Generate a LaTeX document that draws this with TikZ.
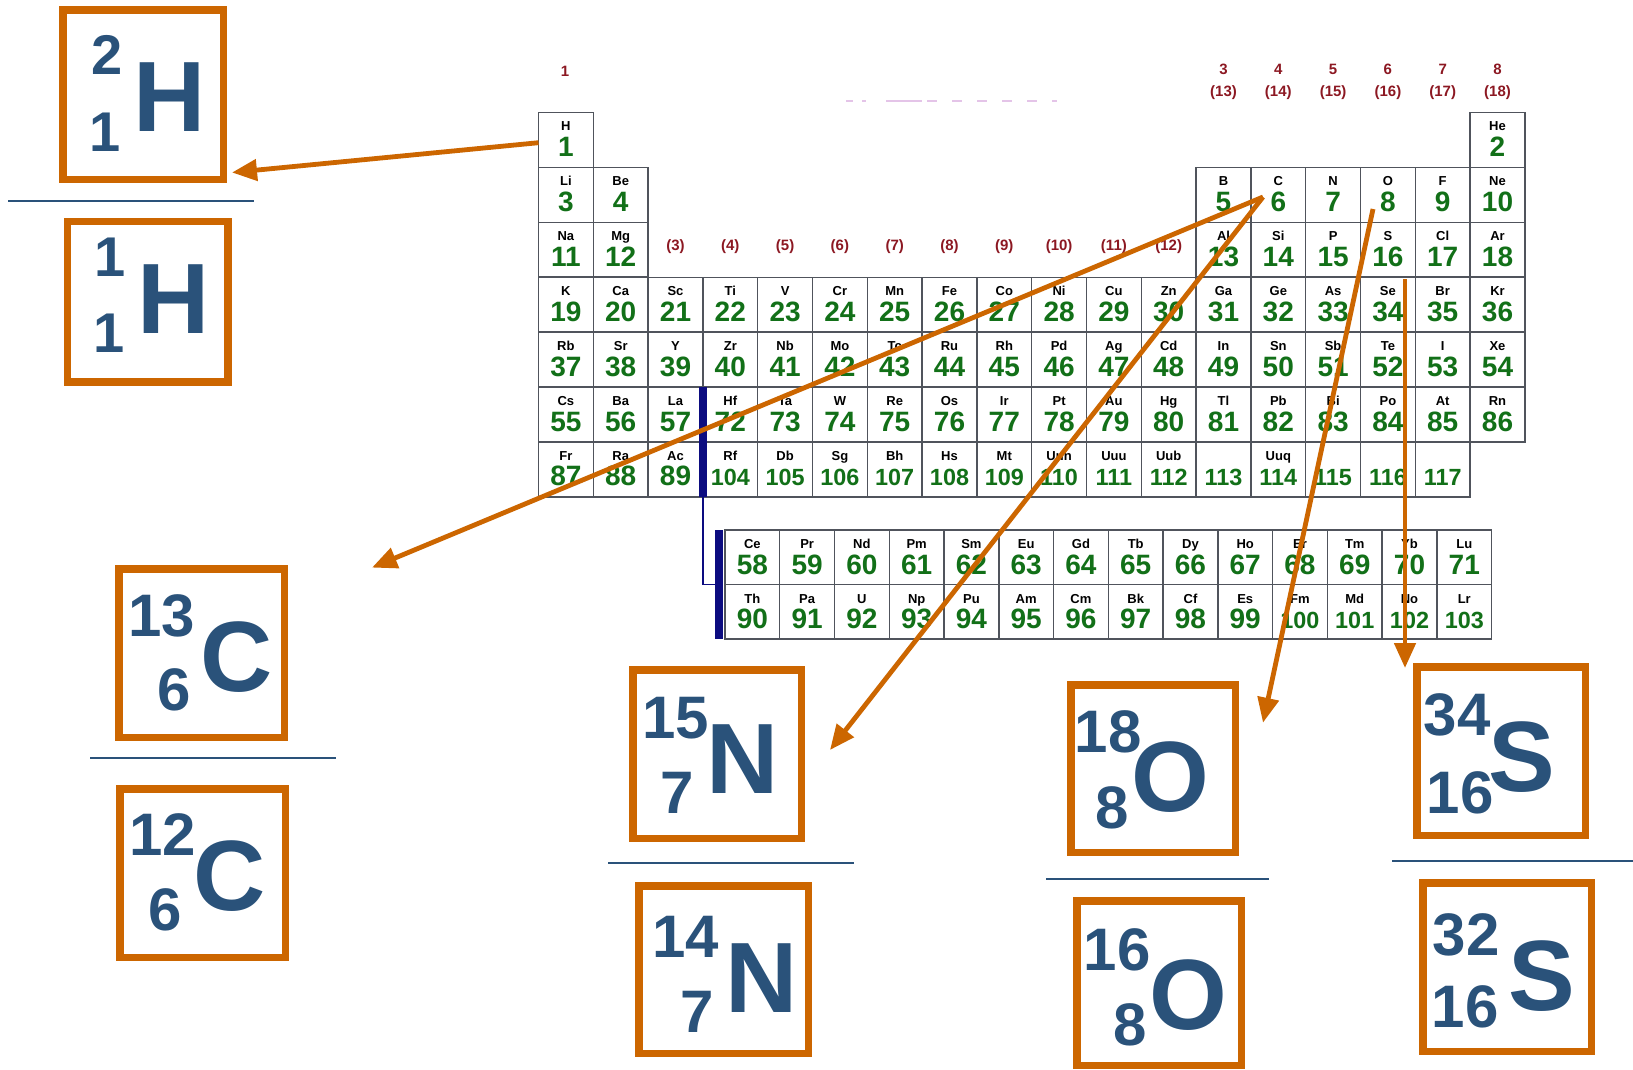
\documentclass[tikz,border=0pt]{standalone}
\usepackage{fontspec}
\setmainfont{Liberation Sans}
\usetikzlibrary{arrows.meta}
\definecolor{orng}{RGB}{204,102,0}
\definecolor{isoblue}{RGB}{42,82,122}
\definecolor{elgreen}{RGB}{18,112,24}
\definecolor{grpred}{RGB}{140,24,34}
\definecolor{navybar}{RGB}{12,12,128}
\definecolor{cellline}{RGB}{80,84,92}
\definecolor{faintpink}{RGB}{228,196,232}
\begin{document}
\begin{tikzpicture}[x=0.5pt,y=-0.5pt,
  cellbox/.style={draw=cellline, line width=0.75pt, fill=white, minimum width=27.4pt, minimum height=27.4pt, inner sep=0pt, outer sep=0pt},
  symtext/.style={anchor=base, inner sep=0pt, font=\fontsize{6.5}{6.5}\selectfont\bfseries, text=black},
  numtext/.style={anchor=base, inner sep=0pt, text=elgreen},
  grplabel/.style={inner sep=0pt, font=\fontsize{7.5}{7.5}\selectfont\bfseries, text=grpred},
  isobox/.style={draw=orng, line width=3.75pt, fill=none, inner sep=0pt},
  isoletter/.style={inner sep=0pt, font=\fontsize{50}{50}\selectfont\bfseries, text=isoblue},
  isonum/.style={inner sep=0pt, font=\fontsize{30}{30}\selectfont\bfseries, text=isoblue},
  isonumh/.style={inner sep=0pt, font=\fontsize{28}{28}\selectfont\bfseries, text=isoblue},
  divider/.style={draw=isoblue, line width=1pt},
  arr/.style={draw=orng, line width=2.4pt, -{Triangle[length=12.5pt,width=10.5pt]}},
]
\useasboundingbox (0,0) rectangle (1633,1070);

% faint remnant of a title
\draw[faintpink, line width=1pt] (846,101) -- (853,101) (862,101) -- (866,101) (886,101) -- (922,101);
\draw[faintpink, line width=1pt, dash pattern=on 5 off 7.5] (927,101) -- (1057,101);

% group labels
\node[grplabel] (g1) at (565,71) {1};
\foreach \k/\a/\b in {13/3/(13),14/4/(14),15/5/(15),16/6/(16),17/7/(17),18/8/(18)}{
  \pgfmathsetmacro\gx{538.5+(\k-0.5)*54.8}
  \node[grplabel] (ga\k) at (\gx,69) {\a};
  \node[grplabel] (gb\k) at (\gx,92.5) {\b};
}
\foreach \k in {3,...,12}{
  \pgfmathsetmacro\gx{538.5+(\k-0.5)*54.8}
  \node[grplabel] (gc\k) at (\gx,247) {(\k)};
}

% main table
\foreach \c/\r/\s/\n in {
 1/1/H/1, 18/1/He/2,
 1/2/Li/3, 2/2/Be/4, 13/2/B/5, 14/2/C/6, 15/2/N/7, 16/2/O/8, 17/2/F/9, 18/2/Ne/10,
 1/3/Na/11, 2/3/Mg/12, 13/3/Al/13, 14/3/Si/14, 15/3/P/15, 16/3/S/16, 17/3/Cl/17, 18/3/Ar/18,
 1/4/K/19, 2/4/Ca/20, 3/4/Sc/21, 4/4/Ti/22, 5/4/V/23, 6/4/Cr/24, 7/4/Mn/25, 8/4/Fe/26, 9/4/Co/27,
 10/4/Ni/28, 11/4/Cu/29, 12/4/Zn/30, 13/4/Ga/31, 14/4/Ge/32, 15/4/As/33, 16/4/Se/34, 17/4/Br/35, 18/4/Kr/36,
 1/5/Rb/37, 2/5/Sr/38, 3/5/Y/39, 4/5/Zr/40, 5/5/Nb/41, 6/5/Mo/42, 7/5/Tc/43, 8/5/Ru/44, 9/5/Rh/45,
 10/5/Pd/46, 11/5/Ag/47, 12/5/Cd/48, 13/5/In/49, 14/5/Sn/50, 15/5/Sb/51, 16/5/Te/52, 17/5/I/53, 18/5/Xe/54,
 1/6/Cs/55, 2/6/Ba/56, 3/6/La/57, 4/6/Hf/72, 5/6/Ta/73, 6/6/W/74, 7/6/Re/75, 8/6/Os/76, 9/6/Ir/77,
 10/6/Pt/78, 11/6/Au/79, 12/6/Hg/80, 13/6/Tl/81, 14/6/Pb/82, 15/6/Bi/83, 16/6/Po/84, 17/6/At/85, 18/6/Rn/86,
 1/7/Fr/87, 2/7/Ra/88, 3/7/Ac/89, 4/7/Rf/104, 5/7/Db/105, 6/7/Sg/106, 7/7/Bh/107, 8/7/Hs/108, 9/7/Mt/109,
 10/7/Uun/110, 11/7/Uuu/111, 12/7/Uub/112, 13/7/{}/113, 14/7/Uuq/114, 15/7/{}/115, 16/7/{}/116, 17/7/{}/117}{
  \pgfmathsetmacro\cx{538.5+(\c-0.5)*54.8}
  \pgfmathsetmacro\cy{112.5+(\r-0.5)*54.9}
  \pgfmathsetmacro\ty{112.5+(\r-1)*54.9}
  \pgfmathsetmacro\nfs{\n>99 ? 11.7 : 14}
  \node[cellbox] (e\n) at (\cx,\cy) {};
  \node[symtext] (s\n) at (\cx,\ty+18.5) {\s};
  \node[numtext, font=\fontsize{\nfs}{\nfs}\selectfont\bfseries] (n\n) at (\cx,\ty+44) {\n};
}

% lanthanides and actinides
\foreach \i/\r/\s/\n in {
 1/1/Ce/58, 2/1/Pr/59, 3/1/Nd/60, 4/1/Pm/61, 5/1/Sm/62, 6/1/Eu/63, 7/1/Gd/64,
 8/1/Tb/65, 9/1/Dy/66, 10/1/Ho/67, 11/1/Er/68, 12/1/Tm/69, 13/1/Yb/70, 14/1/Lu/71,
 1/2/Th/90, 2/2/Pa/91, 3/2/U/92, 4/2/Np/93, 5/2/Pu/94, 6/2/Am/95, 7/2/Cm/96,
 8/2/Bk/97, 9/2/Cf/98, 10/2/Es/99, 11/2/Fm/100, 12/2/Md/101, 13/2/No/102, 14/2/Lr/103}{
  \pgfmathsetmacro\cx{725+(\i-0.5)*54.76}
  \pgfmathsetmacro\cy{530+(\r-0.5)*54.5}
  \pgfmathsetmacro\ty{530+(\r-1)*54.5}
  \pgfmathsetmacro\nfs{\n>99 ? 11.7 : 14}
  \node[cellbox] (e\n) at (\cx,\cy) {};
  \node[symtext] (s\n) at (\cx,\ty+18.5) {\s};
  \node[numtext, font=\fontsize{\nfs}{\nfs}\selectfont\bfseries] (n\n) at (\cx,\ty+44) {\n};
}

% blue bars
\fill[navybar] (699,387) rectangle (707,497);
\fill[navybar] (715,530) rectangle (723,639);
\draw[navybar, line width=0.8pt] (703,497) -- (703,584.3) -- (715,584.3);

% isotope boxes
\node[isobox, minimum width=80.25pt, minimum height=84.75pt] (bH2) at (143.25,94.75) {};
\node[isonumh] (bH2a) at (107,55) {2};
\node[isonumh] (bH2z) at (105,132) {1};
\node[isoletter] (bH2s) at (170,97) {H};

\node[isobox, minimum width=80.25pt, minimum height=80.25pt] (bH1) at (147.5,301.5) {};
\node[isonumh] (bH1a) at (110,257) {1};
\node[isonumh] (bH1z) at (109,333) {1};
\node[isoletter] (bH1s) at (174,299) {H};

\node[isobox, minimum width=82.75pt, minimum height=84.25pt] (bC13) at (201.5,653) {};
\node[isonum] (bC13a) at (162,616) {13};
\node[isonum] (bC13z) at (174,690) {6};
\node[isoletter] (bC13s) at (237,657) {C};

\node[isobox, minimum width=82.75pt, minimum height=84.25pt] (bC12) at (202.5,873) {};
\node[isonum] (bC12a) at (163,835) {12};
\node[isonum] (bC12z) at (165,910) {6};
\node[isoletter] (bC12s) at (230,876) {C};

\node[isobox, minimum width=84.25pt, minimum height=84.25pt] (bN15) at (717,754) {};
\node[isonum] (bN15a) at (676,718) {15};
\node[isonum] (bN15z) at (677,793) {7};
\node[isoletter] (bN15s) at (743,759) {N};

\node[isobox, minimum width=84.75pt, minimum height=83.75pt] (bN14) at (723.5,969.5) {};
\node[isonum] (bN14a) at (686,937) {14};
\node[isonum] (bN14z) at (697,1012) {7};
\node[isoletter] (bN14s) at (762,978) {N};

\node[isobox, minimum width=82.25pt, minimum height=83.75pt] (bO18) at (1153,768.5) {};
\node[isonum] (bO18a) at (1108,732) {18};
\node[isonum] (bO18z) at (1112,808) {8};
\node[isoletter] (bO18s) at (1170,777) {O};

\node[isobox, minimum width=82.25pt, minimum height=82.25pt] (bO16) at (1159,983) {};
\node[isonum] (bO16a) at (1117,950) {16};
\node[isonum] (bO16z) at (1130,1025) {8};
\node[isoletter] (bO16s) at (1188,995) {O};

\node[isobox, minimum width=84.25pt, minimum height=84.25pt] (bS34) at (1501,751) {};
\node[isonum] (bS34a) at (1457,715) {34};
\node[isonum] (bS34z) at (1460,793) {16};
\node[isoletter] (bS34s) at (1522,757) {S};

\node[isobox, minimum width=84.25pt, minimum height=84.25pt] (bS32) at (1507,967) {};
\node[isonum] (bS32a) at (1466,935) {32};
\node[isonum] (bS32z) at (1465,1007) {16};
\node[isoletter] (bS32s) at (1542,976) {S};

% dividers
\coordinate (dHa) at (8,201);     \coordinate (dHb) at (254,201);
\coordinate (dCa) at (90,758);    \coordinate (dCb) at (336,758);
\coordinate (dNa) at (608,863);   \coordinate (dNb) at (854,863);
\coordinate (dOa) at (1046,879);  \coordinate (dOb) at (1269,879);
\coordinate (dSa) at (1392,861);  \coordinate (dSb) at (1633,861);
\draw[divider] (dHa) -- (dHb);
\draw[divider] (dCa) -- (dCb);
\draw[divider] (dNa) -- (dNb);
\draw[divider] (dOa) -- (dOb);
\draw[divider] (dSa) -- (dSb);

% arrows
\coordinate (hStart) at (538.5,142.7);
\coordinate (hTip) at (232,172.5);
\coordinate (cStart) at (1263,197);
\coordinate (c13Tip) at (372,567.6);
\coordinate (n15Tip) at (830,750);
\coordinate (oStart) at (1373,209);
\coordinate (o18Tip) at (1263,722.7);
\coordinate (sStart) at (1405,279);
\coordinate (s34Tip) at (1405,668);
\draw[arr] (hStart) -- (hTip);
\draw[arr] (cStart) -- (c13Tip);
\draw[arr] (cStart) -- (n15Tip);
\draw[arr] (oStart) -- (o18Tip);
\draw[arr] (sStart) -- (s34Tip);
\end{tikzpicture}
\end{document}
